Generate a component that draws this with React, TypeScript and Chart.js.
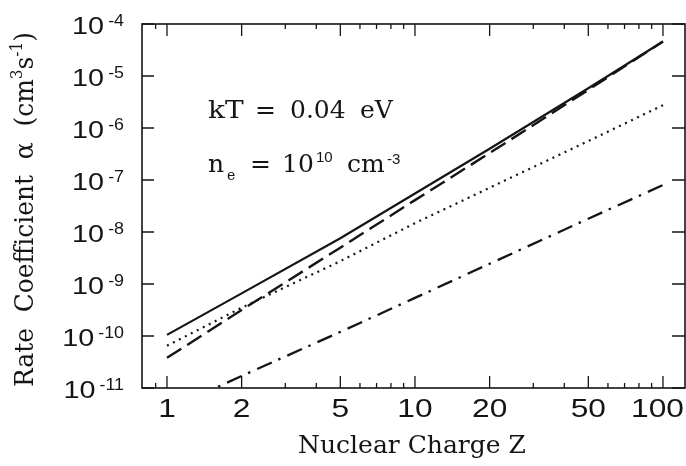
import React, { useEffect, useRef } from "react";
import { Chart, registerables } from "chart.js";

Chart.register(...registerables);

// ---- data ----
const nuclearCharge = [1, 2, 5, 10, 20, 50, 100];
const rateSolid = [1.05e-10, 6.6e-10, 7.6e-9, 5.5e-8, 4.0e-7, 5.8e-6, 4.6e-5];
const rateDashed = [3.8e-11, 3.16e-10, 5.0e-9, 4.1e-8, 3.3e-7, 5.4e-6, 4.6e-5];
const rateDotted = [6.5e-11, 3.5e-10, 2.75e-9, 1.48e-8, 7.1e-8, 5.6e-7, 2.75e-6];
const rateDashDot = [3.8e-12, 1.7e-11, 1.2e-10, 5.4e-10, 2.45e-9, 1.8e-8, 8.0e-8];

const xMajorTicks = [1, 2, 5, 10, 20, 50, 100];
const xMajorLabels = ["1", "2", "5", "10", "20", "50", "100"];
const xMinorTicks = [0.9, 3, 4, 6, 7, 8, 9, 30, 40, 60, 70, 80, 90];
const yTickExponents = [-4, -5, -6, -7, -8, -9, -10, -11];

const xAxisTitle = "Nuclear Charge Z";
const yAxisTitleParts = ["Rate  Coefficient  α  (cm", "3", "s", "-1", ")"];
const kTText = ["kT", "=", "0.04", "eV"];
const densityText = ["n", "e", "=", "10", "10", "cm", "-3"];

const X_MIN = 0.793;
const X_MAX = 122.7;
const Y_MIN = 1e-11;
const Y_MAX = 1e-4;

const INK = "#151515";

function drawScaled(ctx: any, text: string, x: number, y: number, align: string, sx: number) {
  const w = ctx.measureText(text).width * sx;
  let left = x;
  if (align === "center") left = x - w / 2;
  else if (align === "right") left = x - w;
  ctx.save();
  ctx.translate(left, y);
  ctx.scale(sx, 1);
  ctx.textAlign = "left";
  ctx.fillText(text, 0, 0);
  ctx.restore();
  return w;
}

const decorPlugin = {
  id: "decor",
  beforeDraw(chart: any) {
    const { ctx, width, height } = chart;
    ctx.save();
    ctx.fillStyle = "#ffffff";
    ctx.fillRect(0, 0, width, height);
    ctx.restore();
  },
  afterDraw(chart: any) {
    const { ctx, chartArea: a } = chart;
    const xs = chart.scales.x;
    const ys = chart.scales.y;
    ctx.save();
    ctx.strokeStyle = INK;
    ctx.fillStyle = INK;

    // frame
    ctx.lineWidth = 1.6;
    ctx.strokeRect(a.left, a.top, a.right - a.left, a.bottom - a.top);

    // inward ticks
    ctx.lineWidth = 1.3;
    ctx.beginPath();
    const xTick = (v: number, len: number) => {
      const px = xs.getPixelForValue(v);
      ctx.moveTo(px, a.bottom);
      ctx.lineTo(px, a.bottom - len);
      ctx.moveTo(px, a.top);
      ctx.lineTo(px, a.top + len);
    };
    xMajorTicks.forEach((v) => xTick(v, 12));
    xMinorTicks.forEach((v) => xTick(v, 5));
    yTickExponents.forEach((e) => {
      const py = ys.getPixelForValue(Math.pow(10, e));
      ctx.moveTo(a.left, py);
      ctx.lineTo(a.left + 12, py);
      ctx.moveTo(a.right, py);
      ctx.lineTo(a.right - 13, py);
    });
    ctx.stroke();

    // x tick labels
    ctx.textBaseline = "alphabetic";
    ctx.font = "26px 'Liberation Sans'";
    xMajorTicks.forEach((v, i) => {
      const px = xs.getPixelForValue(v);
      const label = xMajorLabels[i];
      const sx = 1.22;
      const w = ctx.measureText(label).width * sx;
      let left = px - w / 2;
      if (left + w > chart.width - 2) left = chart.width - 2 - w;
      drawScaled(ctx, label, left, 417, "left", sx);
    });

    // y tick labels 10^e
    const labelRight = 124;
    yTickExponents.forEach((e) => {
      const py = ys.getPixelForValue(Math.pow(10, e));
      ctx.font = "17px 'Liberation Sans'";
      const expStr = String(e);
      const ew = drawScaled(ctx, expStr, labelRight, py + 2, "right", 1.05);
      ctx.font = "24px 'Liberation Sans'";
      drawScaled(ctx, "10", labelRight - ew - 4, py + 10, "right", 1.2);
    });

    // x axis title
    ctx.font = "25px 'DejaVu Serif'";
    drawScaled(ctx, xAxisTitle, 412, 453, "center", 1.0);

    // y axis title (rotated, with superscripts)
    ctx.save();
    ctx.translate(33, 387);
    ctx.rotate(-Math.PI / 2);
    const mainF = "26px 'DejaVu Serif'";
    const supF = "16px 'DejaVu Serif'";
    const pieces = yAxisTitleParts.map((t, i) => ({
      t,
      f: i === 1 || i === 3 ? supF : mainF,
      dy: i === 1 || i === 3 ? -11 : 0,
    }));
    let total = 0;
    pieces.forEach((p) => {
      ctx.font = p.f;
      total += ctx.measureText(p.t).width;
    });
    const sx = 355 / total;
    ctx.scale(sx, 1);
    ctx.textAlign = "left";
    let cx = 0;
    pieces.forEach((p) => {
      ctx.font = p.f;
      ctx.fillText(p.t, cx, p.dy);
      cx += ctx.measureText(p.t).width;
    });
    ctx.restore();

    // annotations
    ctx.textAlign = "left";
    ctx.font = "25px 'DejaVu Serif'";
    const l1x = [208, 255, 290, 360];
    kTText.forEach((t, i) => drawScaled(ctx, t, l1x[i], 118, "left", i === 0 ? 1.12 : 1.0));

    ctx.font = "25px 'DejaVu Serif'";
    ctx.fillText(densityText[0], 208, 172);
    ctx.font = "14px 'DejaVu Serif'";
    ctx.fillText(densityText[1], 227, 180);
    ctx.font = "25px 'DejaVu Serif'";
    ctx.fillText(densityText[2], 250, 172);
    ctx.fillText(densityText[3], 282, 172);
    ctx.font = "15px 'Liberation Sans'";
    ctx.fillText(densityText[4], 316, 162);
    ctx.font = "25px 'DejaVu Serif'";
    ctx.fillText(densityText[5], 347, 172);
    ctx.font = "15px 'Liberation Sans'";
    ctx.fillText(densityText[6], 387, 164);

    ctx.restore();
  },
};

function pts(values: number[]) {
  return nuclearCharge.map((z, i) => ({ x: z, y: values[i] }));
}

export default function App() {
  const ref = useRef<HTMLCanvasElement | null>(null);
  useEffect(() => {
    if (!ref.current) return;
    const common = {
      borderColor: INK,
      pointRadius: 0,
      tension: 0,
      fill: false,
    };
    const chart = new Chart(ref.current, {
      type: "line",
      data: {
        datasets: [
          { ...common, label: "solid", data: pts(rateSolid), borderWidth: 2.2 },
          { ...common, label: "dashed", data: pts(rateDashed), borderWidth: 2.4, borderDash: [17, 7] },
          { ...common, label: "dotted", data: pts(rateDotted), borderWidth: 2.2, borderDash: [2, 4.7] },
          { ...common, label: "dash-dot", data: pts(rateDashDot), borderWidth: 2.3, borderDash: [16, 7, 2.5, 7.5] },
        ],
      },
      options: {
        responsive: false,
        animation: false,
        devicePixelRatio: 1,
        layout: { padding: { left: 142, top: 24, right: 1, bottom: 78 } },
        plugins: { legend: { display: false }, tooltip: { enabled: false } },
        scales: {
          x: { type: "logarithmic", min: X_MIN, max: X_MAX, display: false },
          y: { type: "logarithmic", min: Y_MIN, max: Y_MAX, display: false },
        },
      },
      plugins: [decorPlugin],
    } as any);
    return () => chart.destroy();
  }, []);
  return (
    <div style={{ position: "fixed", left: 0, top: 0, width: 686, height: 466, background: "#fff" }}>
      <canvas ref={ref} width={686} height={466} style={{ display: "block", width: 686, height: 466 }} />
    </div>
  );
}
